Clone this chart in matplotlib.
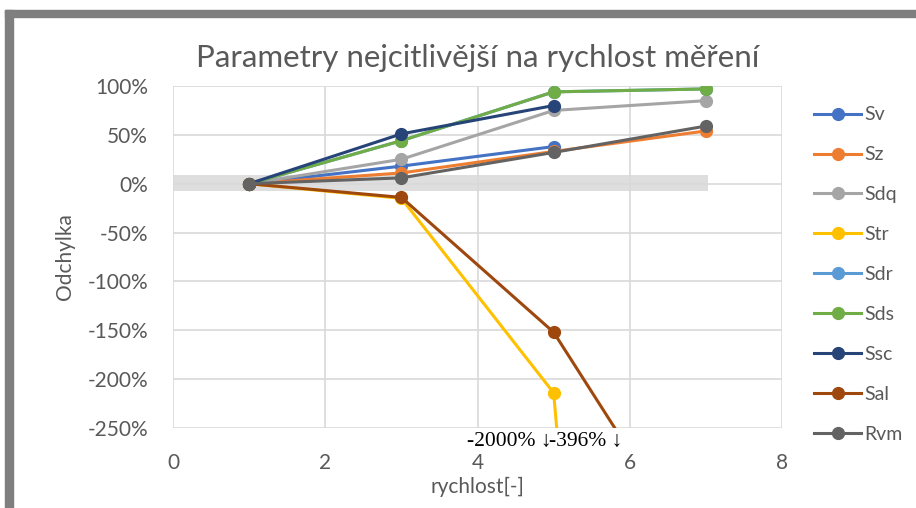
import matplotlib
matplotlib.use('Agg')
import matplotlib.pyplot as plt
from matplotlib.patches import Rectangle
from matplotlib.ticker import PercentFormatter
import numpy as np

# rychlost mereni
x = [1, 3, 5, 7]
names = ['Sv', 'Sz', 'Sdq', 'Str', 'Sdr', 'Sds', 'Ssc', 'Sal', 'Rvm']
Sv = [0.0, 0.18, 0.38, np.nan]
Sz = [0.0, 0.11, 0.33, 0.54]
Sdq = [0.0, 0.25, 0.75, 0.85]
Str = [0.0, -0.15, -2.14, -20.0]
Sdr = [0.0, 0.44, 0.94, 0.97]
Sds = [0.0, 0.44, 0.94, 0.97]
Ssc = [0.0, 0.51, 0.80, np.nan]
Sal = [0.0, -0.14, -1.52, -3.96]
Rvm = [0.0, 0.06, 0.32, 0.59]
colors = ['#4472C4', '#ED7D31', '#A5A5A5', '#FFC000', '#5B9BD5',
          '#70AD47', '#264478', '#9E480E', '#636363']

plt.rcParams['font.family'] = ['Lato', 'DejaVu Sans']
plt.rcParams['axes.unicode_minus'] = False

fig = plt.figure(figsize=(9.16, 5.08), dpi=100)
ax = fig.add_axes([0.1889, 0.1575, 0.6648, 0.6732])

series = [Sv, Sz, Sdq, Str, Sdr, Sds, Ssc, Sal, Rvm]
for name, ys, c in zip(names, series, colors):
    ax.plot(x, ys, color=c, lw=2.2, marker='o', ms=8.5, label=name, zorder=3)

# sedy pas kolem nuly
ax.axhspan(-0.07, 0.09, xmin=0, xmax=7.03 / 8, color='#dedede', lw=0, zorder=0.4)

ax.set_xlim(0, 8)
ax.set_ylim(-2.5, 1.0)
ax.set_xticks([0, 2, 4, 6, 8])
ax.set_yticks(np.arange(-2.5, 1.01, 0.5))
ax.yaxis.set_major_formatter(PercentFormatter(1.0, decimals=0))
ax.set_axisbelow(True)
ax.grid(True, color='#d9d9d9', lw=1.2)
for s in ax.spines.values():
    s.set_visible(False)
ax.tick_params(length=0, labelsize=15, labelcolor='#595959')
ax.tick_params(axis='y', pad=18)
ax.tick_params(axis='x', pad=18)

ax.set_title('Parametry nejcitlivější na rychlost měření', fontsize=22.5,
             color='#595959', pad=14)
ax.set_xlabel('rychlost[-]', fontsize=15, color='#595959', labelpad=3)
ax.set_ylabel('Odchylka', fontsize=15, color='#595959', labelpad=9)

# popisky hodnot mimo graf
ax.text(4.97, -2.64, '{:.0f}% ↓'.format(Str[3] * 100), ha='right', va='center',
        fontsize=15.5, family=['Liberation Serif', 'DejaVu Serif'], clip_on=False)
ax.text(5.9, -2.64, '{:.0f}% ↓'.format(Sal[3] * 100), ha='right', va='center',
        fontsize=15.5, family=['Liberation Serif', 'DejaVu Serif'], clip_on=False)

leg = fig.legend(loc='upper left', bbox_to_anchor=(0.870, 0.825), frameon=False,
                 fontsize=14, labelcolor='#595959', handlelength=2.4,
                 handletextpad=0.15, labelspacing=1.18)

# sedy ramecek
fig.patches.append(Rectangle((5, 0), 8, 498, transform=None, color='#7f7f7f'))
fig.patches.append(Rectangle((5, 491), 911, 7, transform=None, color='#7f7f7f'))

fig.savefig('out.png', dpi=100)
